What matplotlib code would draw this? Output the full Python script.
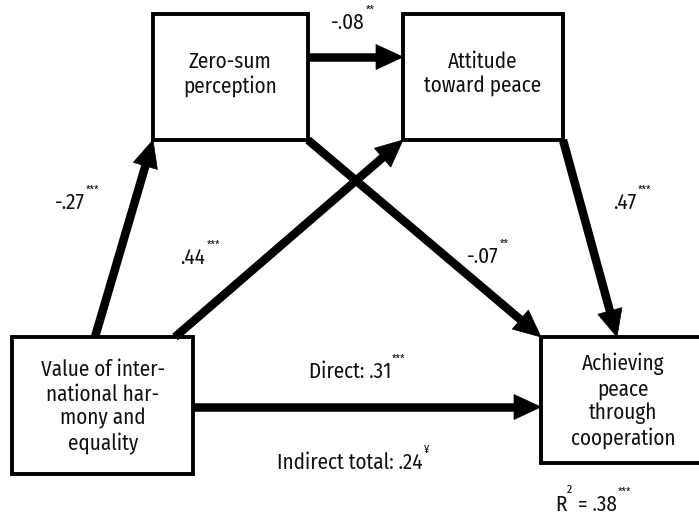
import matplotlib
matplotlib.use("Agg")
import matplotlib.pyplot as plt
from matplotlib.patches import Rectangle, Polygon
from matplotlib import font_manager
import numpy as np

# ---- data ----
node_names = ["Zero-sum\nperception", "Attitude\ntoward peace",
              "Value of inter-\nnational har-\nmony and\nequality",
              "Achieving\npeace\nthrough\ncooperation"]
path_coefs = ["-.08", "-.27", ".44", "-.07", ".47"]
path_sig = ["**", "***", "***", "**", "***"]
direct_label = "Direct: .31"
direct_sig = "***"
indirect_label = "Indirect total: .24"
indirect_sig = "¥"
r2_label = ".38"
r2_sig = "***"

# ---- layout (pixel coordinates, y down) ----
boxes = [(153, 14, 308, 140), (403, 14, 563, 140), (12, 337, 193, 474), (541, 337, 710, 463)]
text_centers = [(230, 74), (483, 74), (103, 407), (623, 401)]
arrows = [((308, 57), (403, 57)),
          ((95, 337), (153, 140)),
          ((175, 337), (403, 140)),
          ((308, 140), (541, 337)),
          ((563, 140), (617, 337)),
          ((193, 407), (541, 407))]
label_pos = [(348, 23), (70, 203), (193, 258), (483, 257), (625, 203)]

avail = {f.name for f in font_manager.fontManager.ttflist}
fam = next((f for f in ["Fira Sans Condensed", "Asap Condensed", "Liberation Sans Narrow"] if f in avail), "DejaVu Sans")
plt.rcParams['font.family'] = [fam, 'DejaVu Sans']

fig = plt.figure(figsize=(6.99, 5.16), dpi=100)
ax = fig.add_axes([0, 0, 1, 1])
ax.set_xlim(0, 699)
ax.set_ylim(516, 0)
ax.axis('off')

FS = 15.2
for (x0, y0, x1, y1), (cx, cy), name in zip(boxes, text_centers, node_names):
    ax.add_patch(Rectangle((x0, y0), x1 - x0, y1 - y0, fill=False, lw=2.8,
                           ec='black', joinstyle='miter'))
    ax.text(cx, cy, name, ha='center', va='center', fontsize=FS, linespacing=1.17,
            color='#111111')

LW = 8.5  # px
HL, HW = 27, 25
for (p0, p1) in arrows:
    p0 = np.array(p0, float); p1 = np.array(p1, float)
    d = p1 - p0
    L = np.hypot(*d)
    u = d / L
    n = np.array([-u[1], u[0]])
    base = p1 - u * HL
    ax.plot([p0[0], base[0] + u[0] * 2], [p0[1], base[1] + u[1] * 2], color='black',
            lw=LW * 0.72, solid_capstyle='butt')
    tri = [p1, base + n * HW / 2, base - n * HW / 2]
    ax.add_patch(Polygon(tri, closed=True, fc='black', ec='black', lw=0.5))

fig.canvas.draw()
renderer = fig.canvas.get_renderer()
inv = ax.transData.inverted()


def label_with_sup(x, y, main, sup, fs=FS):
    t = ax.text(x, y, main, ha='center', va='center', fontsize=fs, color='#111111')
    bb = t.get_window_extent(renderer)
    (xr, ytop) = inv.transform((bb.x1, bb.y1))
    ax.text(xr + 1, ytop + 3, sup, ha='left', va='bottom', fontsize=fs * 0.52)
    return t


for (x, y), c, s in zip(label_pos, path_coefs, path_sig):
    label_with_sup(x, y, c, s)

label_with_sup(350, 372, direct_label, direct_sig)
label_with_sup(350, 463, indirect_label, indirect_sig)

# R^2 label
t1 = ax.text(555, 505, "R", ha='left', va='center', fontsize=FS, color='#111111')
bb = t1.get_window_extent(renderer)
xr, yt = inv.transform((bb.x1, bb.y1))
t2 = ax.text(xr + 0.5, yt + 1, "2", ha='left', va='bottom', fontsize=FS * 0.55)
bb2 = t2.get_window_extent(renderer)
xr2, _ = inv.transform((bb2.x1, bb2.y1))
t3 = ax.text(xr2 + 1, 505, " = " + r2_label, ha='left', va='center', fontsize=FS,
             color='#111111')
bb3 = t3.get_window_extent(renderer)
xr3, yt3 = inv.transform((bb3.x1, bb3.y1))
ax.text(xr3 + 1, yt3 + 3, r2_sig, ha='left', va='bottom', fontsize=FS * 0.52)

fig.savefig("out.png", dpi=100)
